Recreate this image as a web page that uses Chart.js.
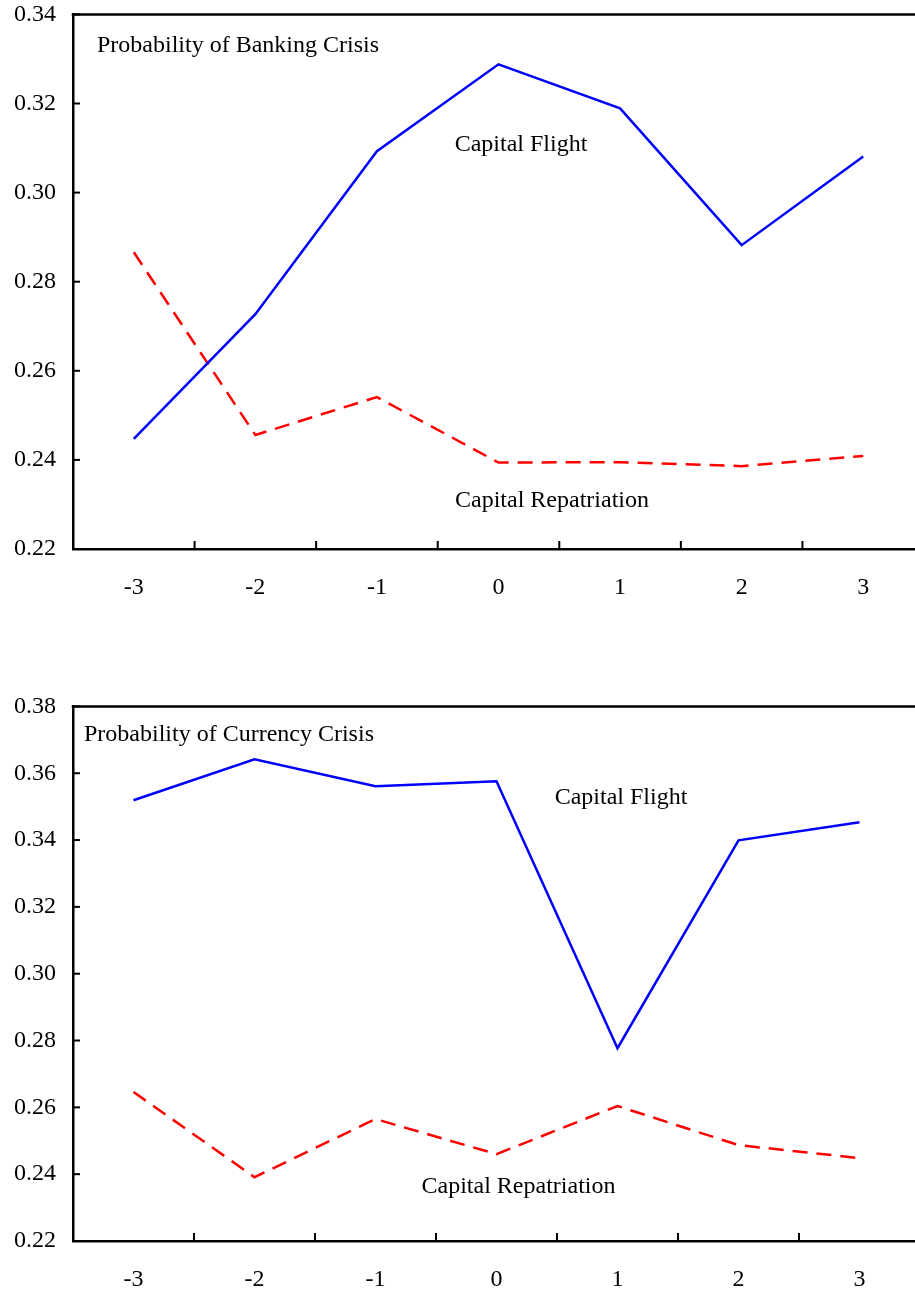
<!DOCTYPE html>
<html>
<head>
<meta charset="utf-8">
<script src="https://cdn.jsdelivr.net/npm/chart.js@4/dist/chart.umd.min.js"></script>
<style>
html,body{margin:0;padding:0;background:#fff;overflow:hidden;width:915px;height:1293px;}
.box{position:absolute;left:0;}
</style>
</head>
<body>
<div class="box" id="b1" style="top:-17px;width:924px;height:637px;"><canvas id="c1"></canvas></div>
<div class="box" id="b2" style="top:675px;width:920px;height:637px;"><canvas id="c2"></canvas></div>
<script>
const categories = ['-3','-2','-1','0','1','2','3'];

const bankingFlight      = [0.2447, 0.2727, 0.3093, 0.3288, 0.3189, 0.2882, 0.3081];
const bankingRepatriation = [0.2866, 0.2456, 0.2541, 0.2394, 0.2395, 0.2386, 0.2409];

const currencyFlight      = [0.3519, 0.3642, 0.3561, 0.3576, 0.2777, 0.3399, 0.3453];
const currencyRepatriation = [0.2646, 0.2391, 0.2565, 0.2460, 0.2604, 0.2487, 0.2448];

const bankingTitle = 'Probability of Banking Crisis';
const currencyTitle = 'Probability of Currency Crisis';
const flightLabel = 'Capital Flight';
const repatLabel = 'Capital Repatriation';

const FONT = '"Liberation Serif", "Times New Roman", serif';
const FS = 24;

const decoPlugin = {
  id: 'deco',
  afterDraw(chart, args, opts) {
    const ctx = chart.ctx;
    const ca = chart.chartArea;
    const xs = chart.scales.x, ys = chart.scales.y;
    ctx.save();
    ctx.strokeStyle = '#000';
    ctx.lineWidth = 2.5;
    ctx.beginPath();
    ctx.moveTo(ca.left - 1.25, ca.top);
    ctx.lineTo(ca.right, ca.top);
    ctx.stroke();
    ctx.lineWidth = 2;
    ys.ticks.forEach(t => {
      const y = ys.getPixelForValue(t.value);
      ctx.beginPath();
      ctx.moveTo(ca.left, y);
      ctx.lineTo(ca.left + 7, y);
      ctx.stroke();
    });
    const n = categories.length;
    const step = xs.getPixelForValue(1) - xs.getPixelForValue(0);
    for (let i = 1; i < n; i++) {
      const x = xs.getPixelForValue(i) - step / 2;
      ctx.beginPath();
      ctx.moveTo(x, ca.bottom);
      ctx.lineTo(x, ca.bottom - 8);
      ctx.stroke();
    }
    ctx.fillStyle = '#000';
    ctx.font = FS + 'px ' + FONT;
    ctx.textBaseline = 'middle';
    (opts.labels || []).forEach(l => {
      ctx.textAlign = l.align || 'left';
      ctx.fillText(l.text, ca.left + l.dx, ca.top + l.dy);
    });
    ctx.restore();
  }
};

function makeChart(id, flight, repat, yMax, labels) {
  return new Chart(document.getElementById(id), {
    type: 'line',
    data: {
      labels: categories,
      datasets: [
        { label: flightLabel, data: flight, borderColor: '#0000ff', borderWidth: 2.5,
          pointRadius: 0, tension: 0, fill: false },
        { label: repatLabel, data: repat, borderColor: '#ff0000', borderWidth: 2.5,
          borderDash: [15, 9], pointRadius: 0, tension: 0, fill: false }
      ]
    },
    options: {
      responsive: true,
      maintainAspectRatio: false,
      animation: false,
      layout: { padding: { top: 0, right: 0, left: 0, bottom: 0 } },
      plugins: {
        legend: { display: false },
        tooltip: { enabled: false },
        deco: { labels: labels }
      },
      scales: {
        x: {
          offset: true,
          grid: { display: false, drawTicks: false },
          border: { display: true, color: '#000', width: 2.5 },
          ticks: { color: '#000', font: { family: FONT, size: FS }, padding: 24, maxRotation: 0 },
          afterFit(s) { s.height = 71; }
        },
        y: {
          min: 0.22, max: yMax,
          grid: { display: false, drawTicks: false },
          border: { display: true, color: '#000', width: 2.5 },
          ticks: { stepSize: 0.02, color: '#000', font: { family: FONT, size: FS }, padding: 17,
                   callback: v => Number(v).toFixed(2) },
          afterFit(s) { s.width = 73; }
        }
      }
    },
    plugins: [decoPlugin]
  });
}

makeChart('c1', bankingFlight, bankingRepatriation, 0.34, [
  { text: bankingTitle, dx: 24, dy: 31, align: 'left' },
  { text: flightLabel, dx: 448, dy: 130, align: 'center' },
  { text: repatLabel, dx: 479, dy: 486, align: 'center' }
]);
makeChart('c2', currencyFlight, currencyRepatriation, 0.38, [
  { text: currencyTitle, dx: 11, dy: 28, align: 'left' },
  { text: flightLabel, dx: 548, dy: 91, align: 'center' },
  { text: repatLabel, dx: 445.5, dy: 480, align: 'center' }
]);
</script>
</body>
</html>
